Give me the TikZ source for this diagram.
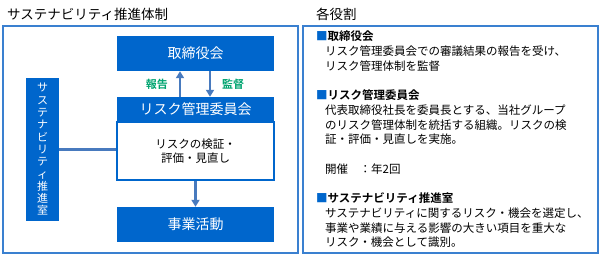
\documentclass[tikz,border=0pt]{standalone}
\usepackage{fontspec}
\setmainfont{Noto Sans CJK JP}[BoldFont={Noto Sans CJK JP Bold}]
\usepackage{xcolor}
\usetikzlibrary{arrows.meta}
\definecolor{corpblue}{RGB}{0,102,204}
\definecolor{frameblue}{RGB}{58,128,208}
\definecolor{arrowblue}{RGB}{72,122,190}
\definecolor{labgreen}{RGB}{0,164,112}

\begin{document}
\begin{tikzpicture}[x=1pt, y=-1pt,
  font=\fontsize{11.5}{14.7}\selectfont,
  frame/.style={draw=frameblue, line width=1.6pt},
  title/.style={anchor=west, inner sep=0pt, font=\fontsize{13.5}{15}\selectfont},
  solid/.style={fill=corpblue, text=white, minimum width=157pt, minimum height=35pt,
    inner sep=0pt, font=\fontsize{14}{16}\selectfont},
  head/.style={solid, minimum height=25pt},
  body/.style={draw=corpblue, line width=1.6pt, fill=white, minimum width=157pt,
    minimum height=58pt, inner sep=0pt, align=center},
  side/.style={fill=corpblue, text=white, minimum width=33pt, minimum height=143pt,
    inner sep=0pt, align=center, font=\fontsize{11}{12.3}\selectfont},
  flow/.style={-{Triangle[length=7pt,width=8pt]}, line width=2.3pt, draw=arrowblue},
  link/.style={line width=2.3pt, draw=arrowblue},
  lab/.style={text=labgreen, inner sep=0pt, font=\bfseries\fontsize{11}{13}\selectfont},
  role/.style={anchor=north west, inner sep=0pt, align=left}]

\useasboundingbox (0,0) rectangle (600,257);

% left panel
\node[title] (ltitle) at (7,14) {サステナビリティ推進体制};
\draw[frame] (3,26) rectangle (298,253);

\node[solid] (board) at (195.5,53.5) {取締役会};
\node[body] (rbody) at (195.5,151) {リスクの検証・\\評価・見直し};
\node[head] (rhead) at (195.5,109.5) {リスク管理委員会};
\node[solid] (biz) at (195.5,224.5) {事業活動};
\node[side] (sust) at (42.5,149.5) {サ\\ス\\テ\\ナ\\ビ\\リ\\テ\\ィ\\推\\進\\室};

\draw[flow] ([xshift=-15.5pt]rhead.north) -- ([xshift=-15.5pt]board.south)
  node[lab, midway, left=11pt] {報告};
\draw[flow] ([xshift=14.5pt]board.south) -- ([xshift=14.5pt]rhead.north)
  node[lab, midway, right=11pt] {監督};
\draw[flow] (rbody.south) -- (biz.north);
\draw[link] (sust.east) -- (sust.east -| rbody.west);

% right panel
\node[title] (rtitle) at (316,14) {各役割};
\draw[frame] (303,26) rectangle (598,253);

\node[role] (roles) at (316,31) {%
  \textbf{\textcolor{corpblue}{■}取締役会}\\
  \hspace*{9pt}リスク管理委員会での審議結果の報告を受け、\\
  \hspace*{9pt}リスク管理体制を監督\\[14.7pt]
  \textbf{\textcolor{corpblue}{■}リスク管理委員会}\\
  \hspace*{9pt}代表取締役社長を委員長とする、当社グループ\\
  \hspace*{9pt}のリスク管理体制を統括する組織。リスクの検\\
  \hspace*{9pt}証・評価・見直しを実施。\\[14.7pt]
  \hspace*{9pt}開催　：年2回\\[14.7pt]
  \textbf{\textcolor{corpblue}{■}サステナビリティ推進室}\\
  \hspace*{9pt}サステナビリティに関するリスク・機会を選定し、\\
  \hspace*{9pt}事業や業績に与える影響の大きい項目を重大な\\
  \hspace*{9pt}リスク・機会として識別。};
\end{tikzpicture}
\end{document}
